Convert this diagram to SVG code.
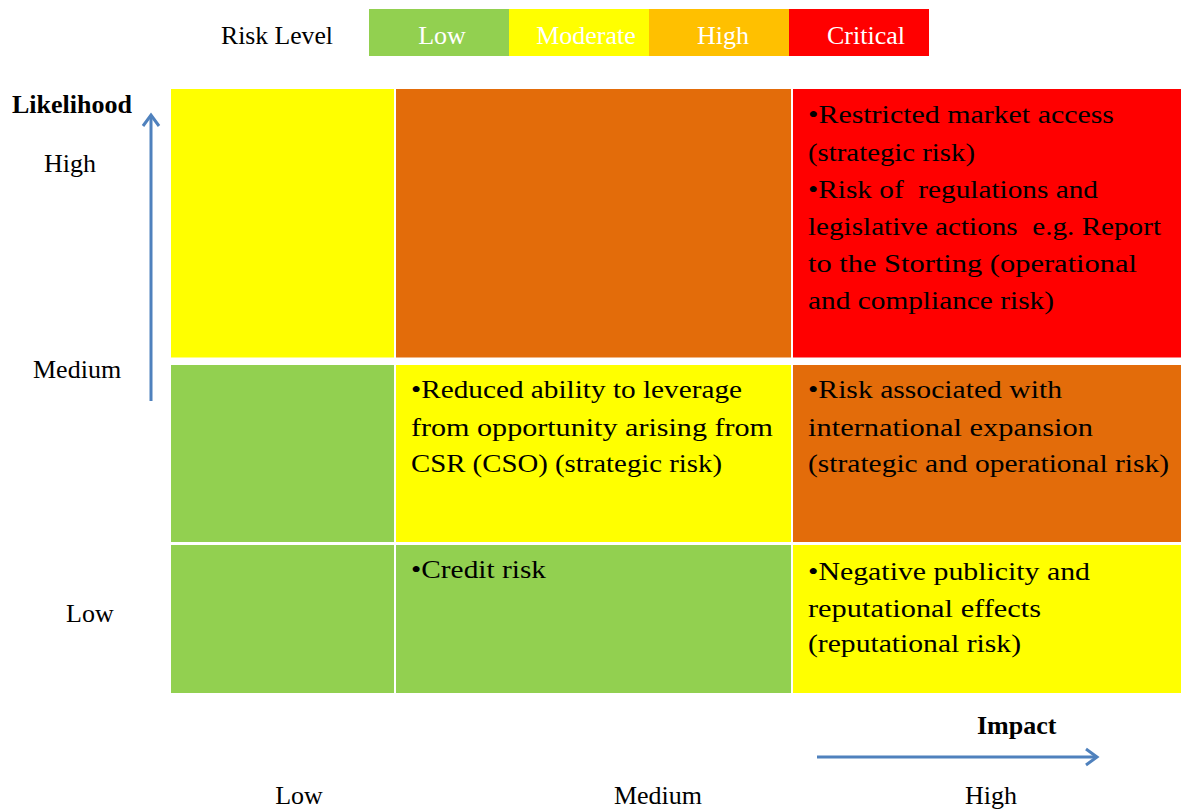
<svg xmlns="http://www.w3.org/2000/svg" width="1181" height="811" viewBox="0 0 1181 811">
  <style>
    .lbl { font-family: "Liberation Serif", "Times New Roman", serif; font-size: 26px; fill: #000; }
    .bold { font-weight: bold; }
    .key { font-family: "Liberation Serif", "Times New Roman", serif; font-size: 26px; fill: #fff; text-anchor: middle; }
    .note { font-family: "Liberation Serif", "Times New Roman", serif; font-size: 26px; fill: #000; }
    .mid { text-anchor: middle; }
    .green { fill: #92D050; }
    .yellow { fill: #FFFF00; }
    .amber { fill: #FFC000; }
    .orange { fill: #E36C0A; }
    .red { fill: #FF0000; }
    .axis { stroke: #4F81BD; stroke-width: 3; fill: none; }
  </style>
  <defs>
    <marker id="chevron" markerUnits="userSpaceOnUse" markerWidth="24" markerHeight="24" refX="0" refY="0" viewBox="-16 -12 24 24" orient="auto" overflow="visible">
      <path d="M-11,-8 L0,0 L-11,8" stroke="#4F81BD" stroke-width="3" fill="none" stroke-linejoin="miter"/>
    </marker>
  </defs>

  <rect width="1181" height="811" fill="#ffffff"/>

  <!-- risk level key -->
  <g id="legend">
    <text class="lbl" x="221" y="44" textLength="112" lengthAdjust="spacingAndGlyphs">Risk Level</text>
    <rect class="green" x="369" y="9" width="140" height="47"/>
    <rect class="yellow" x="509" y="9" width="140" height="47"/>
    <rect class="amber" x="649" y="9" width="140" height="47"/>
    <rect class="red" x="789" y="9" width="140" height="47"/>
    <text class="key" x="442" y="44">Low</text>
    <text class="key" x="586" y="44">Moderate</text>
    <text class="key" x="723" y="44">High</text>
    <text class="key" x="866" y="44">Critical</text>
  </g>

  <!-- axis titles and tick labels -->
  <g id="likelihood-axis">
    <text class="lbl bold" x="12" y="113">Likelihood</text>
    <text class="lbl" x="44" y="172">High</text>
    <text class="lbl" x="33" y="378">Medium</text>
    <text class="lbl" x="66" y="622">Low</text>
  </g>
  <g id="impact-axis">
    <text class="lbl bold" x="977" y="734">Impact</text>
    <text class="lbl mid" x="299" y="804">Low</text>
    <text class="lbl mid" x="658" y="804">Medium</text>
    <text class="lbl mid" x="991" y="804">High</text>
  </g>

  <!-- matrix cells: rows high / medium / low likelihood, columns low / medium / high impact -->
  <g id="cell-high-low">
    <rect class="yellow" x="171" y="89" width="223" height="268.5"/>
  </g>
  <g id="cell-high-medium">
    <rect class="orange" x="396" y="89" width="395" height="268.5"/>
  </g>
  <g id="cell-high-high">
    <rect class="red" x="793" y="89" width="388" height="268.5"/>
    <text class="note" x="808" y="123" textLength="306" lengthAdjust="spacingAndGlyphs">•Restricted market access</text>
    <text class="note" x="808" y="161" textLength="167" lengthAdjust="spacingAndGlyphs">(strategic risk)</text>
    <text class="note" x="808" y="198" textLength="290" lengthAdjust="spacingAndGlyphs" xml:space="preserve">•Risk of  regulations and</text>
    <text class="note" x="808" y="235" textLength="353" lengthAdjust="spacingAndGlyphs" xml:space="preserve">legislative actions  e.g. Report</text>
    <text class="note" x="808" y="272" textLength="329" lengthAdjust="spacingAndGlyphs">to the Storting (operational</text>
    <text class="note" x="808" y="309" textLength="246" lengthAdjust="spacingAndGlyphs">and compliance risk)</text>
  </g>

  <g id="cell-medium-low">
    <rect class="green" x="171" y="365" width="223" height="177"/>
  </g>
  <g id="cell-medium-medium">
    <rect class="yellow" x="396" y="365" width="395" height="177"/>
    <text class="note" x="411" y="398" textLength="331" lengthAdjust="spacingAndGlyphs">•Reduced ability to leverage</text>
    <text class="note" x="411" y="436" textLength="362" lengthAdjust="spacingAndGlyphs">from opportunity arising from</text>
    <text class="note" x="411" y="472" textLength="311" lengthAdjust="spacingAndGlyphs">CSR (CSO) (strategic risk)</text>
  </g>
  <g id="cell-medium-high">
    <rect class="orange" x="793" y="365" width="388" height="177"/>
    <text class="note" x="808" y="398" textLength="254" lengthAdjust="spacingAndGlyphs">•Risk associated with</text>
    <text class="note" x="808" y="436" textLength="285" lengthAdjust="spacingAndGlyphs">international expansion</text>
    <text class="note" x="808" y="472" textLength="361" lengthAdjust="spacingAndGlyphs">(strategic and operational risk)</text>
  </g>

  <g id="cell-low-low">
    <rect class="green" x="171" y="545" width="223" height="148"/>
  </g>
  <g id="cell-low-medium">
    <rect class="green" x="396" y="545" width="395" height="148"/>
    <text class="note" x="411" y="578" textLength="135" lengthAdjust="spacingAndGlyphs">•Credit risk</text>
  </g>
  <g id="cell-low-high">
    <rect class="yellow" x="793" y="545" width="388" height="148"/>
    <text class="note" x="808" y="580" textLength="282" lengthAdjust="spacingAndGlyphs">•Negative publicity and</text>
    <text class="note" x="808" y="617" textLength="233" lengthAdjust="spacingAndGlyphs">reputational effects</text>
    <text class="note" x="808" y="652" textLength="213" lengthAdjust="spacingAndGlyphs">(reputational risk)</text>
  </g>

  <!-- axis arrows -->
  <g id="connectors">
    <line class="axis" x1="151" y1="401" x2="151" y2="115" marker-end="url(#chevron)"/>
    <line class="axis" x1="817" y1="757" x2="1097" y2="757" marker-end="url(#chevron)"/>
  </g>
</svg>
